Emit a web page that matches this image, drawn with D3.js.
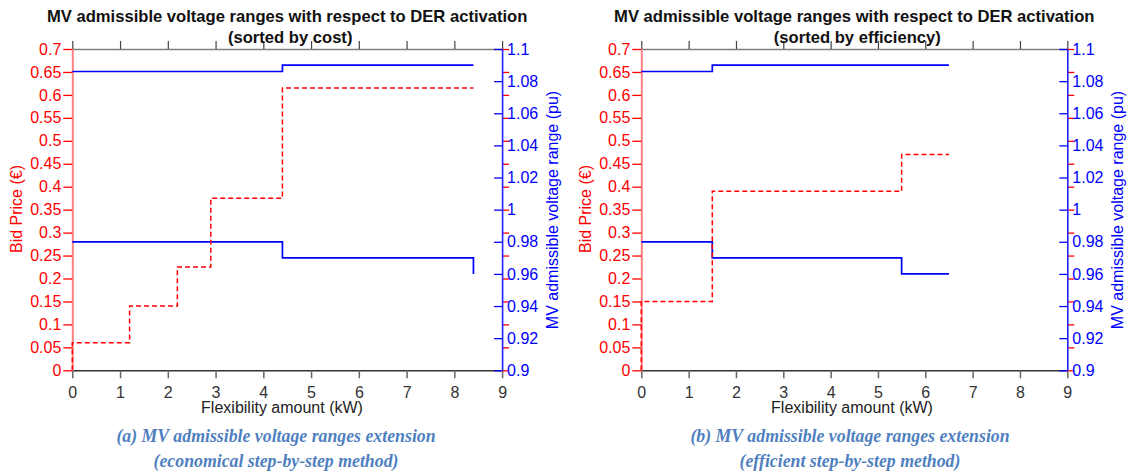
<!DOCTYPE html>
<html>
<head>
<meta charset="utf-8">
<script src="https://cdn.jsdelivr.net/npm/d3@7"></script>
<style>
  html, body { margin: 0; padding: 0; background: #fff; }
  svg { display: block; }
  text { font-family: "Liberation Sans", Arial, sans-serif; }
</style>
</head>
<body>
<svg id="chart" width="1129" height="472"></svg>
<script>
// ---------------- data ----------------
const xTicks = [0, 1, 2, 3, 4, 5, 6, 7, 8, 9];
const priceTicks = [0, 0.05, 0.1, 0.15, 0.2, 0.25, 0.3, 0.35, 0.4, 0.45, 0.5, 0.55, 0.6, 0.65, 0.7];
const voltTicks = [0.9, 0.92, 0.94, 0.96, 0.98, 1, 1.02, 1.04, 1.06, 1.08, 1.1];

// (a) sorted by cost
const costPriceX = [0, 0, 1.2, 2.2, 2.9, 4.4, 8.4];
const costPriceY = [0, 0.06, 0.14, 0.225, 0.375, 0.615, 0.615];
const costUpperX = [0, 4.4, 8.4];
const costUpperY = [1.086, 1.09, 1.09];
const costLowerX = [0, 4.4, 8.4, 8.4];
const costLowerY = [0.98, 0.97, 0.97, 0.96];

// (b) sorted by efficiency
const effPriceX = [0, 0, 1.5, 5.5, 6.5];
const effPriceY = [0, 0.15, 0.39, 0.47, 0.47];
const effUpperX = [0, 1.5, 6.5];
const effUpperY = [1.086, 1.09, 1.09];
const effLowerX = [0, 1.5, 5.5, 6.5];
const effLowerY = [0.98, 0.97, 0.96, 0.96];

const titleLine1 = "MV admissible voltage ranges with respect to DER activation";
const subtitles = ["(sorted by cost)", "(sorted by efficiency)"];
const captions1 = ["(a) MV admissible voltage ranges extension", "(b) MV admissible voltage ranges extension"];
const captions2 = ["(economical step-by-step method)", "(efficient step-by-step method)"];
const xLabel = "Flexibility amount (kW)";
const yLeftLabel = "Bid Price (€)";
const yRightLabel = "MV admissible voltage range (pu)";

// ---------------- drawing ----------------
const svg = d3.select("#chart");
const fmt = d => String(+d.toFixed(2));

const panels = [
  { x0: 72.3, x1: 502.1, px: costPriceX, py: costPriceY, ux: costUpperX, uy: costUpperY, lx: costLowerX, ly: costLowerY,
    sub: subtitles[0], c1: captions1[0], c2: captions2[0], capX: 276, xlabX: 282 },
  { x0: 641.3, x1: 1067.3, px: effPriceX, py: effPriceY, ux: effUpperX, uy: effUpperY, lx: effLowerX, ly: effLowerY,
    sub: subtitles[1], c1: captions1[1], c2: captions2[1], capX: 850, xlabX: 852 }
];

const yTop = 49, yBot = 370.3;
const capColor = "#4f7fbf";

panels.forEach(p => {
  const g = svg.append("g");
  const x = d3.scaleLinear().domain([0, 9]).range([p.x0, p.x1]);
  const yP = d3.scaleLinear().domain([0, 0.7]).range([yBot, yTop]);
  const yV = d3.scaleLinear().domain([0.9, 1.1]).range([yBot, yTop]);

  // top axis (box)
  const top = g.append("g").attr("transform", `translate(0,${yTop})`)
    .call(d3.axisTop(x).tickValues(xTicks).tickSize(8).tickSizeOuter(0).tickFormat(""));
  top.select(".domain").attr("stroke", "#808080").attr("stroke-width", 1.5);
  top.selectAll(".tick line").attr("stroke", "#444").attr("stroke-width", 1.2);

  // bottom axis
  const bot = g.append("g").attr("transform", `translate(0,${yBot})`)
    .call(d3.axisBottom(x).tickValues(xTicks).tickSize(8).tickSizeOuter(0).tickPadding(8).tickFormat(fmt));
  bot.select(".domain").attr("stroke", "#333").attr("stroke-width", 1.5);
  bot.selectAll(".tick line").attr("stroke", "#666").attr("stroke-width", 1.5);
  bot.selectAll(".tick text").attr("fill", "#333").style("font-size", "16px")
    .style("font-family", '"Liberation Sans", Arial, sans-serif');

  // mirrored red ticks on the right side
  const rr = g.append("g").attr("transform", `translate(${p.x1},0)`)
    .call(d3.axisRight(yP).tickValues(priceTicks).tickSize(7).tickSizeOuter(0).tickFormat(""));
  rr.select(".domain").remove();
  rr.selectAll(".tick line").attr("stroke", "#ff0000").attr("stroke-width", 1.3);

  // right axis (voltage) - ticks inward
  const ra = g.append("g").attr("transform", `translate(${p.x1},0)`)
    .call(d3.axisRight(yV).tickValues(voltTicks).tickSizeInner(-8).tickSizeOuter(0).tickPadding(5).tickFormat(fmt));
  ra.select(".domain").attr("stroke", "#2222ff").attr("stroke-width", 1.6);
  ra.selectAll(".tick line").attr("stroke", "#0000ff").attr("stroke-width", 1.3);
  ra.selectAll(".tick text").attr("fill", "#0000ff").style("font-size", "16px")
    .style("font-family", '"Liberation Sans", Arial, sans-serif');

  // left axis (price)
  const la = g.append("g").attr("transform", `translate(${p.x0},0)`)
    .call(d3.axisLeft(yP).tickValues(priceTicks).tickSize(9).tickSizeOuter(0).tickPadding(2).tickFormat(fmt));
  la.select(".domain").attr("stroke", "#ff8080").attr("stroke-width", 2);
  la.selectAll(".tick line").attr("stroke", "#ff0000").attr("stroke-width", 1.3);
  la.selectAll(".tick text").attr("fill", "#ff0000").style("font-size", "16px")
    .style("font-family", '"Liberation Sans", Arial, sans-serif');

  // series
  const lineP = d3.line().x(d => x(d[0])).y(d => yP(d[1])).curve(d3.curveStepAfter);
  const lineV = d3.line().x(d => x(d[0])).y(d => yV(d[1])).curve(d3.curveStepAfter);

  g.append("path").datum(d3.zip(p.ux, p.uy)).attr("d", lineV)
    .attr("fill", "none").attr("stroke", "#0000ff").attr("stroke-width", 1.7);
  g.append("path").datum(d3.zip(p.lx, p.ly)).attr("d", lineV)
    .attr("fill", "none").attr("stroke", "#0000ff").attr("stroke-width", 1.7);
  g.append("path").datum(d3.zip(p.px, p.py)).attr("d", lineP)
    .attr("fill", "none").attr("stroke", "#ff0000").attr("stroke-width", 1.5)
    .attr("stroke-dasharray", "5,3");

  const cx = (p.x0 + p.x1) / 2;
  // titles
  g.append("text").attr("x", cx).attr("y", 21.5).attr("text-anchor", "middle")
    .style("font-size", "16.6px").style("font-weight", "bold").attr("fill", "#111").text(titleLine1);
  g.append("text").attr("x", cx + 3).attr("y", 43).attr("text-anchor", "middle")
    .style("font-size", "16.6px").style("font-weight", "bold").attr("fill", "#111").text(p.sub);

  // x label
  g.append("text").attr("x", p.xlabX).attr("y", 413).attr("text-anchor", "middle")
    .style("font-size", "16px").attr("fill", "#222").text(xLabel);

  // y labels
  g.append("text").attr("transform", `translate(${p.x0 - 50},209) rotate(-90)`)
    .attr("text-anchor", "middle").style("font-size", "16px").attr("fill", "#ff0000").text(yLeftLabel);
  g.append("text").attr("transform", `translate(${p.x1 + 56},210) rotate(-90)`)
    .attr("text-anchor", "middle").style("font-size", "16px").attr("fill", "#0000ff").text(yRightLabel);

  // captions
  g.append("text").attr("x", p.capX).attr("y", 442).attr("text-anchor", "middle")
    .style("font-family", '"Liberation Serif", "Times New Roman", serif')
    .style("font-size", "17.8px").style("font-weight", "bold").style("font-style", "italic")
    .attr("fill", capColor).text(p.c1);
  g.append("text").attr("x", p.capX).attr("y", 467).attr("text-anchor", "middle")
    .style("font-family", '"Liberation Serif", "Times New Roman", serif')
    .style("font-size", "17.8px").style("font-weight", "bold").style("font-style", "italic")
    .attr("fill", capColor).text(p.c2);
});
</script>
</body>
</html>
